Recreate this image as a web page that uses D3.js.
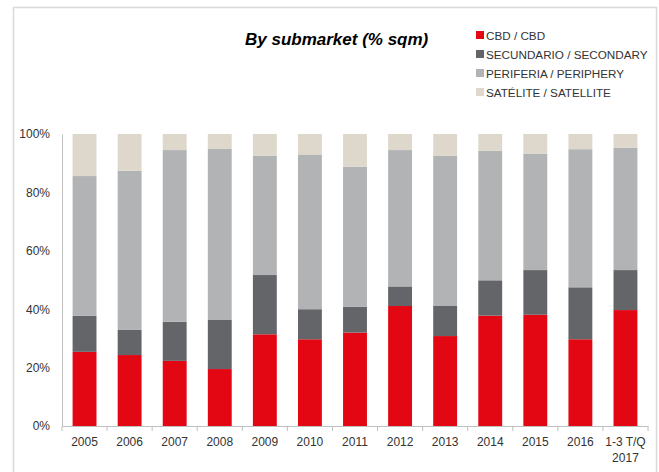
<!DOCTYPE html>
<html>
<head>
<meta charset="utf-8">
<script src="https://cdn.jsdelivr.net/npm/d3@7"></script>
<style>
  body { margin: 0; background: #fff; }
  text { font-family: "Liberation Sans", Arial, sans-serif; }
</style>
</head>
<body>
<div id="chart"></div>
<script>
const years = ["2005", "2006", "2007", "2008", "2009", "2010", "2011", "2012", "2013", "2014", "2015", "2016", "1-3 T/Q|2017"];
const cbd = [25.4, 24.3, 22.3, 19.5, 31.4, 29.7, 32.0, 41.1, 30.8, 37.8, 38.1, 29.7, 39.7];
const secondary = [12.4, 8.6, 13.4, 16.8, 20.3, 10.3, 8.8, 6.7, 10.3, 12.1, 15.3, 17.8, 13.7];
const periphery = [47.8, 54.5, 58.8, 58.7, 40.8, 53.0, 48.0, 46.7, 51.4, 44.3, 39.9, 47.3, 41.9];
const satellite = [14.4, 12.6, 5.5, 5.0, 7.5, 7.0, 11.2, 5.5, 7.5, 5.8, 6.7, 5.2, 4.7];
const seriesNames = ["CBD / CBD", "SECUNDARIO / SECONDARY", "PERIFERIA / PERIPHERY", "SATÉLITE / SATELLITE"];
const yTicks = [0, 20, 40, 60, 80, 100];

const width = 659, height = 472;
const margin = {top: 134, right: 11, bottom: 46, left: 62};

const svg = d3.select("#chart")
    .append("svg")
    .attr("width", width)
    .attr("height", height);

// frame
svg.append("path")
    .attr("d", `M13.5,${height} V7.5 H656.5 V${height}`)
    .attr("fill", "none")
    .attr("stroke", "#d9d9d9")
    .attr("stroke-width", 1.5);

const colors = d3.scaleOrdinal()
    .domain(seriesNames)
    .range(["#e30613", "#636569", "#b1b3b5", "#ddd8cb"]);

const table = years.map((y, i) => ({
    year: y,
    [seriesNames[0]]: cbd[i],
    [seriesNames[1]]: secondary[i],
    [seriesNames[2]]: periphery[i],
    [seriesNames[3]]: satellite[i]
}));

const stack = d3.stack().keys(seriesNames)(table);

const xScale = d3.scaleBand()
    .domain(years)
    .range([margin.left, width - margin.right])
    .paddingInner(0.47)
    .paddingOuter(0.235);

const yScale = d3.scaleLinear()
    .domain([0, 100])
    .range([height - margin.bottom, margin.top]);

// bars
svg.append("g")
    .selectAll("g")
    .data(stack)
    .join("g")
    .attr("fill", d => colors(d.key))
    .selectAll("rect")
    .data(d => d)
    .join("rect")
    .attr("x", d => xScale(d.data.year))
    .attr("y", d => yScale(Math.min(d[1], 100)))
    .attr("width", xScale.bandwidth())
    .attr("height", d => yScale(d[0]) - yScale(Math.min(d[1], 100)));

// y axis
const yAxis = svg.append("g")
    .attr("transform", `translate(${margin.left},0)`)
    .call(d3.axisLeft(yScale).tickValues(yTicks).tickSize(0).tickPadding(12).tickFormat(d => d + "%"));
yAxis.select(".domain").attr("stroke", "#bfbfbf");
yAxis.selectAll("text").attr("font-size", 12).attr("fill", "#333");

// x axis
const xAxis = svg.append("g")
    .attr("transform", `translate(0,${height - margin.bottom})`)
    .call(d3.axisBottom(xScale).tickSize(0).tickPadding(10).tickFormat(""));
xAxis.select(".domain").attr("stroke", "#bfbfbf");

// tick marks at category boundaries
const bounds = d3.range(years.length + 1).map(i => margin.left + i * (width - margin.right - margin.left) / years.length);
xAxis.selectAll(".bound")
    .data(bounds)
    .join("line")
    .attr("class", "bound")
    .attr("x1", d => d).attr("x2", d => d)
    .attr("y1", 0).attr("y2", 5)
    .attr("stroke", "#bfbfbf");

// x labels (multi-line)
xAxis.selectAll(".lab")
    .data(years)
    .join("text")
    .attr("class", "lab")
    .attr("text-anchor", "middle")
    .attr("font-size", 12)
    .attr("fill", "#333")
    .attr("transform", d => `translate(${xScale(d) + xScale.bandwidth() / 2},0)`)
    .each(function(d) {
        d3.select(this).selectAll("tspan")
            .data(d.split("|"))
            .join("tspan")
            .attr("x", 0)
            .attr("y", (t, i) => 20 + i * 16)
            .text(t => t);
    });

// title
svg.append("text")
    .attr("x", 245)
    .attr("y", 45)
    .attr("font-size", 17)
    .attr("font-weight", "bold")
    .attr("font-style", "italic")
    .attr("fill", "#000")
    .text("By submarket (% sqm)");

// legend
const legend = svg.append("g")
    .selectAll("g")
    .data(seriesNames)
    .join("g")
    .attr("transform", (d, i) => `translate(476,${35 + i * 19})`);

legend.append("rect")
    .attr("x", 0).attr("y", -4)
    .attr("width", 8).attr("height", 8)
    .attr("fill", d => colors(d));

legend.append("text")
    .attr("x", 10)
    .attr("y", 4.5)
    .attr("font-size", 11.7)
    .attr("fill", "#333")
    .text(d => d);
</script>
</body>
</html>
